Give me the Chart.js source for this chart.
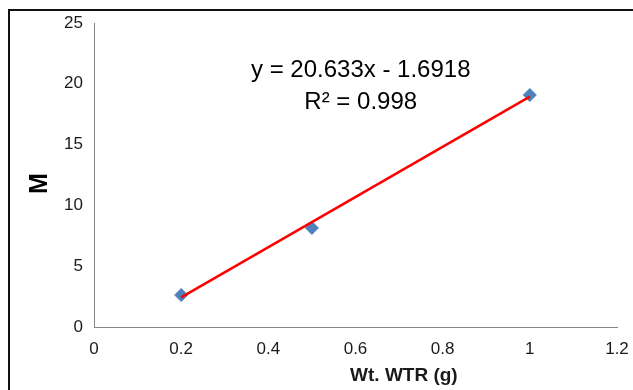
<!DOCTYPE html>
<html lang="en">
<head>
<meta charset="UTF-8">
<title>M vs Wt. WTR</title>
<script src="https://cdn.jsdelivr.net/npm/chart.js@4/dist/chart.umd.min.js"></script>
<style>
    html, body { margin: 0; padding: 0; background: #fff; }
    #frame {
        position: absolute; left: 8px; top: 9px; width: 625px; height: 381px;
        border-left: 2px solid #111; border-top: 2px solid #111;
    }
    #wrap { position: absolute; left: 0; top: 0; width: 633px; height: 390px; }
</style>
</head>
<body>
<div id="frame"></div>
<div id="wrap"><canvas id="chart"></canvas></div>
<script>
    // values
    const weights = [0.2, 0.5, 1.0];
    const mValues = [2.63, 8.15, 19.08];
    const trendX = [0.2, 1.0];
    const trendY = [2.43, 18.94];
    const xTicks = [0, 0.2, 0.4, 0.6, 0.8, 1, 1.2];
    const yTicks = [0, 5, 10, 15, 20, 25];
    const eqLines = ['y = 20.633x - 1.6918', 'R\u00B2 = 0.998'];
    const xTitle = 'Wt. WTR (g)';
    const yTitle = 'M';

    const axisGray = '#868686';
    const textCol = '#1a1a1a';
    const fam = "'Liberation Sans', Arial, sans-serif";

    // trendline equation and both axis titles (excel put them off centre)
    const extraText = {
        id: 'extraText',
        afterDraw(chart) {
            const ctx = chart.ctx;
            const xs = chart.scales.x, ys = chart.scales.y;
            ctx.save();
            ctx.fillStyle = '#000';
            ctx.textAlign = 'center';
            ctx.textBaseline = 'middle';
            ctx.font = '24px ' + fam;
            ctx.fillText(eqLines[0], xs.getPixelForValue(0.612), ys.getPixelForValue(21.1));
            ctx.fillText(eqLines[1], xs.getPixelForValue(0.612), ys.getPixelForValue(18.5));

            ctx.font = 'bold 19px ' + fam;
            ctx.fillStyle = textCol;
            ctx.fillText(xTitle, xs.getPixelForValue(0.711), xs.bottom - 14);

            ctx.font = 'bold 25px ' + fam;
            ctx.fillStyle = '#000';
            ctx.translate(ys.left + 40, ys.getPixelForValue(11.8));
            ctx.rotate(-Math.PI / 2);
            ctx.fillText(yTitle, 0, 0);
            ctx.restore();
        }
    };

    new Chart(document.getElementById('chart'), {
        type: 'scatter',
        data: {
            datasets: [{
                label: 'M',
                data: weights.map((w, i) => ({ x: w, y: mValues[i] })),
                pointStyle: 'rectRot',
                pointRadius: 6.5,
                backgroundColor: '#4F81BD',
                borderColor: '#4A7EBB',
                borderWidth: 1,
                order: 2
            }, {
                label: 'Trend',
                type: 'line',
                data: trendX.map((w, i) => ({ x: w, y: trendY[i] })),
                borderColor: '#FF0000',
                borderWidth: 2.5,
                pointRadius: 0,
                fill: false,
                order: 1
            }]
        },
        options: {
            responsive: true,
            maintainAspectRatio: false,
            animation: false,
            layout: { padding: { top: 23, right: 16, left: 0, bottom: 0 } },
            plugins: { legend: { display: false }, tooltip: { enabled: false } },
            scales: {
                x: {
                    type: 'linear',
                    min: 0, max: 1.2,
                    afterBuildTicks: s => { s.ticks = xTicks.map(v => ({ value: v })); },
                    afterFit: s => { s.height = 63; s.paddingLeft = 0; s.paddingRight = 0; },
                    grid: { display: false, drawTicks: false },
                    border: { display: true, color: axisGray, width: 1 },
                    ticks: {
                        padding: 12,
                        color: textCol,
                        font: { family: fam, size: 17 },
                        maxRotation: 0,
                        callback: v => String(v)
                    }
                },
                y: {
                    min: 0, max: 25,
                    afterBuildTicks: s => { s.ticks = yTicks.map(v => ({ value: v })); },
                    afterFit: s => { s.width = 94; s.paddingTop = 0; s.paddingBottom = 0; },
                    grid: { display: false, drawTicks: false },
                    border: { display: true, color: axisGray, width: 1 },
                    ticks: {
                        padding: 11,
                        color: textCol,
                        font: { family: fam, size: 17 }
                    }
                }
            }
        },
        plugins: [extraText]
    });
</script>
</body>
</html>
